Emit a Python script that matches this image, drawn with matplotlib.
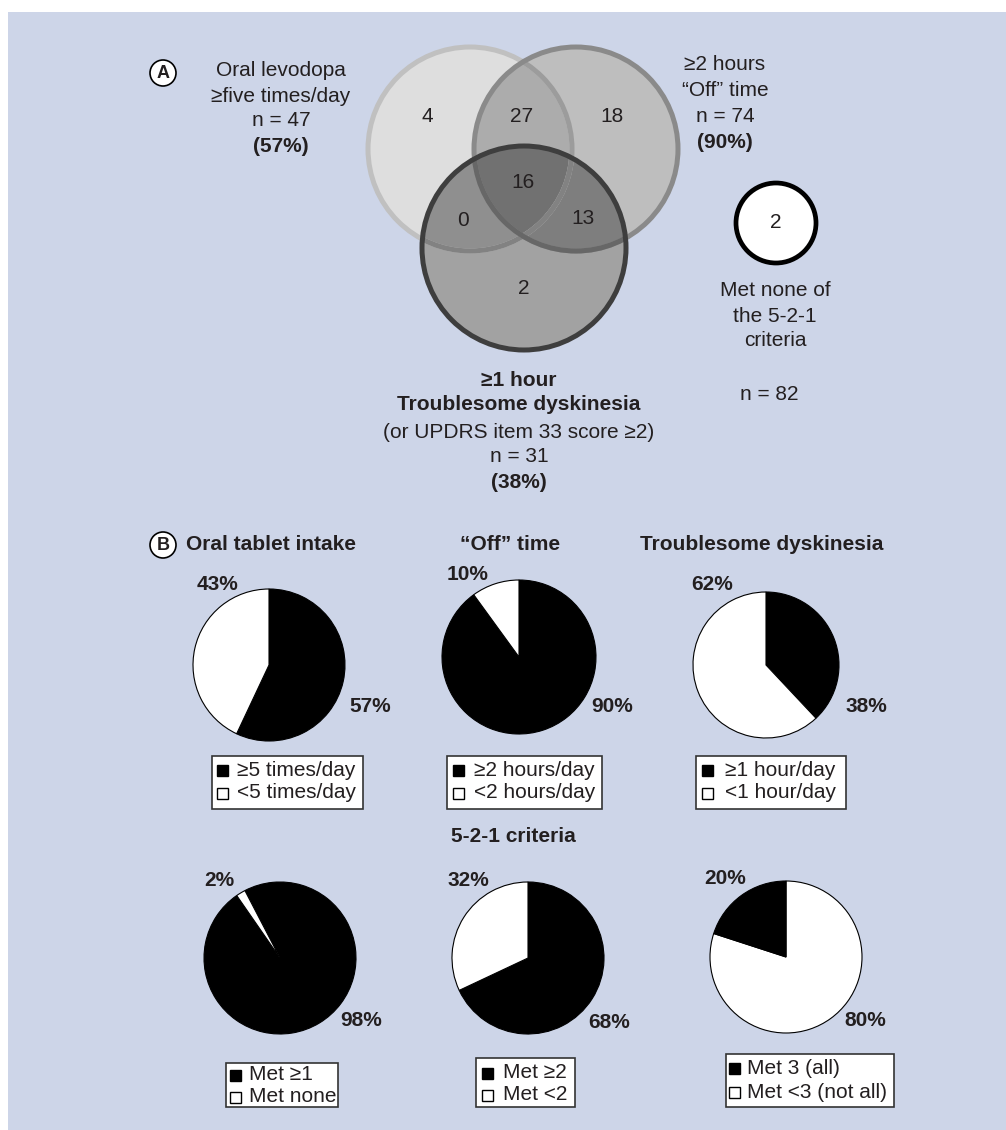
import numpy as np
import matplotlib.pyplot as plt
from matplotlib.patches import Circle, Rectangle, PathPatch
from matplotlib.path import Path

plt.rcParams['font.family'] = ['Liberation Sans', 'DejaVu Sans']

W, H = 1006, 1130
BG = '#cdd5e8'
INK = '#231f20'

# ---- data ----
# venn region counts: 1 only, 1&2, 2 only, all three, 1&3, 2&3, 3 only
venn_counts = [4, 27, 18, 16, 0, 13, 2]
none_count = 2
total_n = 82
set_n = [47, 74, 31]
set_pct = [57, 90, 38]

pie_titles = ['Oral tablet intake', '\u201cOff\u201d time', 'Troublesome dyskinesia']
pie_values = [[57, 43], [90, 10], [38, 62], [98, 2], [68, 32], [80, 20]]
pie_colors = [['black', 'white']] * 5 + [['white', 'black']]
pie_start = [90, 90, 90, 117.5, 90, 90]
legend_labels = [['\u22655 times/day', '<5 times/day'],
                 ['\u22652 hours/day', '<2 hours/day'],
                 ['\u22651 hour/day', '<1 hour/day'],
                 ['Met \u22651', 'Met none'],
                 ['Met \u22652', 'Met <2'],
                 ['Met 3 (all)', 'Met <3 (not all)']]

# ---- layout (pixels, y down) ----
venn_c = [(470, 149), (576, 149), (524, 248)]
venn_r = 102
venn_txt = [(427, 116), (522, 116), (612, 116), (523, 183), (463, 220), (583, 219), (524, 288)]
pie_c = [(269, 665, 76), (519, 657, 77), (766, 665, 73),
         (280, 958, 76), (528, 958, 76), (786, 957, 76)]
pct_small = [(218, 584), (468, 575), (712, 584), (219, 880), (468, 880), (725, 878)]
pct_big = [(370, 706), (612, 706), (866, 706), (361, 1020), (609, 1023), (865, 1020)]
leg_box = [(212, 756, 363, 809), (447, 756, 602, 809), (696, 756, 846, 809),
           (226, 1063, 338, 1107), (476, 1058, 575, 1107), (726, 1054, 894, 1107)]
leg_rows = [(770, 793), (770, 793), (770, 793), (1075, 1097), (1073, 1095), (1068, 1092)]
leg_mk = [11, 12, 12, 10, 12, 9]
leg_tx = [25, 27, 29, 23, 27, 21]
FS = 15

fig = plt.figure(figsize=(W / 100, H / 100), dpi=100)
ax = fig.add_axes([0, 0, 1, 1])
ax.set_xlim(0, W)
ax.set_ylim(H, 0)
ax.axis('off')
ax.add_patch(Rectangle((8, 12), W - 8, H - 12, facecolor=BG, edgecolor='none'))


def txt(x, y, s, bold=False, ha='center', size=FS):
    ax.text(x, y, s, ha=ha, va='center', fontsize=size, color=INK,
            fontweight='bold' if bold else 'normal')


def circ(i, **kw):
    return Circle(venn_c[i], venn_r, transform=ax.transData, **kw)


def lens(i, j):
    # polygon of the overlap of circle i and circle j
    c1 = np.array(venn_c[i], float)
    c2 = np.array(venn_c[j], float)
    d = np.hypot(*(c2 - c1))
    a = d / 2
    al = np.arccos(a / venn_r)
    p12 = np.arctan2(*(c2 - c1)[::-1])
    t1 = np.linspace(p12 - al, p12 + al, 100)
    t2 = np.linspace(p12 + np.pi - al, p12 + np.pi + al, 100)
    pts = np.vstack([np.c_[c1[0] + venn_r * np.cos(t1), c1[1] + venn_r * np.sin(t1)],
                     np.c_[c2[0] + venn_r * np.cos(t2), c2[1] + venn_r * np.sin(t2)]])
    return PathPatch(Path(np.vstack([pts, pts[:1]]), closed=True), transform=ax.transData)


# region fills
ax.add_patch(circ(0, facecolor='#dedede', edgecolor='none'))
ax.add_patch(circ(1, facecolor='#bebebe', edgecolor='none'))
p = ax.add_patch(circ(1, facecolor='#acacac', edgecolor='none'))
p.set_clip_path(circ(0))
ax.add_patch(circ(2, facecolor='#a2a2a2', edgecolor='none'))
p = ax.add_patch(circ(2, facecolor='#8f8f8f', edgecolor='none'))
p.set_clip_path(circ(0))
p = ax.add_patch(circ(2, facecolor='#7e7e7e', edgecolor='none'))
p.set_clip_path(circ(1))
p = ax.add_patch(circ(2, facecolor='#717171', edgecolor='none'))
p.set_clip_path(lens(0, 1))

# outlines
LW = 3.6
ax.add_patch(circ(0, fill=False, edgecolor='#c0c0c0', lw=LW))
p = ax.add_patch(circ(0, fill=False, edgecolor='#9c9c9c', lw=LW))
p.set_clip_path(circ(1))
p = ax.add_patch(circ(0, fill=False, edgecolor='#828282', lw=LW))
p.set_clip_path(circ(2))
ax.add_patch(circ(1, fill=False, edgecolor='#8a8a8a', lw=LW))
p = ax.add_patch(circ(1, fill=False, edgecolor='#676767', lw=LW))
p.set_clip_path(circ(2))
ax.add_patch(circ(2, fill=False, edgecolor='#3e3e3e', lw=LW))

for (x, y), v in zip(venn_txt, venn_counts):
    txt(x, y, str(v))

# "met none" circle
ax.add_patch(Circle((776, 223), 40, facecolor='white', edgecolor='black', lw=3.4))
txt(776, 222, str(none_count))
for y, s in zip([290, 316, 341], ['Met none of', 'the 5-2-1', 'criteria']):
    txt(775, y, s)
txt(769, 394, f'n = {total_n}')

# set labels
for y, s in zip([70, 96, 121], ['Oral levodopa', '\u2265five times/day', f'n = {set_n[0]}']):
    txt(281, y, s)
txt(281, 147, f'({set_pct[0]}%)', bold=True)
for y, s in zip([65, 91, 116], ['\u22652 hours', '\u201cOff\u201d time', f'n = {set_n[1]}']):
    txt(725, y, s)
txt(725, 143, f'({set_pct[1]}%)', bold=True)
txt(519, 380, '\u22651 hour', bold=True)
txt(519, 405, 'Troublesome dyskinesia', bold=True)
txt(519, 432, '(or UPDRS item 33 score \u22652)')
txt(519, 457, f'n = {set_n[2]}')
txt(519, 483, f'({set_pct[2]}%)', bold=True)

# panel letters
for y, s in [(73, 'A'), (545, 'B')]:
    ax.add_patch(Circle((163, y), 13, facecolor='white', edgecolor='black', lw=1.2))
    txt(163, y + 0.5, s, bold=True, size=13)

# panel B titles
for x, s in zip([271, 510, 762], pie_titles):
    txt(x, 545, s, bold=True)
txt(513, 837, '5-2-1 criteria', bold=True)

# pies
pad = 1.03
for k, (cx, cy, r) in enumerate(pie_c):
    pa = fig.add_axes([(cx - r * pad) / W, 1 - (cy + r * pad) / H, 2 * r * pad / W, 2 * r * pad / H])
    pa.pie(pie_values[k], colors=pie_colors[k], startangle=pie_start[k], counterclock=False,
           wedgeprops=dict(edgecolor='black', linewidth=0.8))
    pa.set_xlim(-pad, pad)
    pa.set_ylim(-pad, pad)
    pa.set_aspect('equal')
    pa.axis('off')
    txt(*pct_small[k], f'{pie_values[k][1]}%', bold=True)
    txt(*pct_big[k], f'{pie_values[k][0]}%', bold=True)

# legends
for k, (x0, y0, x1, y1) in enumerate(leg_box):
    ax.add_patch(Rectangle((x0, y0), x1 - x0, y1 - y0, facecolor='white', edgecolor='#333333', lw=1.2))
    for j, lab in enumerate(legend_labels[k]):
        yy = leg_rows[k][j]
        ax.add_patch(Rectangle((x0 + leg_mk[k] - 5.5, yy - 5.5), 11, 11,
                               facecolor=['black', 'white'][j], edgecolor='black', lw=1))
        txt(x0 + leg_tx[k], yy, lab, ha='left')

fig.savefig('out.png', dpi=100)
